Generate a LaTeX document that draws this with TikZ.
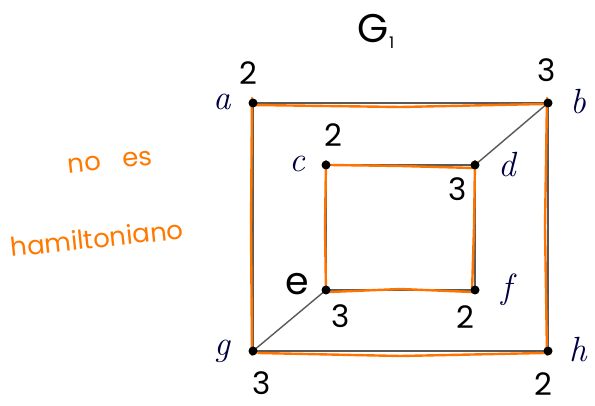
\documentclass[tikz,border=0pt]{standalone}
\usepackage{fontspec}
\usetikzlibrary{calc}
\newfontfamily\hand{Poppins}
\begin{document}
\begin{tikzpicture}[x=1pt,y=-1pt,
  vtx/.style={circle,fill=black,inner sep=0pt,minimum size=9pt},
  edge/.style={draw=black!65,line width=1.4pt},
  ham/.style={draw=orange!90!red,line width=2.4pt,line cap=round},
  lab/.style={font=\fontsize{35}{35}\selectfont\itshape,text=blue!25!black},
  deg/.style={font=\hand\fontsize{31}{31}\selectfont,text=black},
  note/.style={font=\hand\fontsize{26}{26}\selectfont,text=orange!95!red,rotate=6}]
\fill[white] (0,0) rectangle (595,406);
\useasboundingbox (0,0) rectangle (595,406);
\coordinate (a) at (253,103);
\coordinate (b) at (548,103);
\coordinate (c) at (326,165);
\coordinate (d) at (475,165);
\coordinate (e) at (326,290);
\coordinate (f) at (475,290);
\coordinate (g) at (253,351);
\coordinate (h) at (548,351);
% gray edges
\draw[edge] (a) -- (b) -- (h) -- (g) -- (a);
\draw[edge] (c) -- (d) -- (f) -- (e) -- (c);
\draw[edge] (b) -- (d);
\draw[edge] (e) -- (g);
% orange cycles
\draw[ham] ([yshift=-2pt]a) -- ([yshift=-4pt]$(a)!0.5!(b)$) -- ([yshift=-1pt,xshift=-4pt]b);
\draw[ham] ([xshift=-1pt,yshift=5pt]b) -- ([xshift=-3pt]$(b)!0.5!(h)$) -- ([xshift=-1pt,yshift=-4pt]h);
\draw[ham] ([yshift=-2pt,xshift=-4pt]h) -- ([yshift=-5pt]$(g)!0.5!(h)$) -- ([yshift=-2pt,xshift=5pt]g);
\draw[ham] ([xshift=-1pt,yshift=-4pt]g) -- ([xshift=-2pt]$(a)!0.5!(g)$) -- ([xshift=-1pt,yshift=5pt]a);
\draw[ham] ([xshift=4pt]c) -- ([yshift=-1pt]$(c)!0.5!(d)$) -- ([xshift=-2pt,yshift=-3pt]d) -- ([yshift=4pt]d);
\draw[ham] ([yshift=4pt]d) -- ([xshift=-1pt]$(d)!0.5!(f)$) -- ([xshift=-3pt,yshift=-2pt]f);
\draw[ham] ([xshift=-3pt,yshift=-2pt]f) -- ([yshift=1pt]$(e)!0.5!(f)$) -- ([xshift=4pt,yshift=-2pt]e);
\draw[ham] ([yshift=-3pt]e) -- ([xshift=-1pt]$(c)!0.5!(e)$) -- ([yshift=4pt]c);
% vertices
\foreach \v in {a,b,c,d,e,f,g,h} \node[vtx] (v\v) at (\v) {};
% labels
\node[lab] (la) at (222,102) {a};
\node[lab] (lb) at (578,102) {b};
\node[lab] (lc) at (297,164) {c};
\node[lab] (ld) at (507,165) {d};
\node[lab] (lf) at (507,290) {f};
\node[lab] (lg) at (222,351) {g};
\node[lab] (lh) at (578,350) {h};
\node[deg,font=\hand\fontsize{38}{38}\selectfont] (le) at (297,284) {e};
% degrees
\node[deg] (da) at (248,73) {2};
\node[deg] (db) at (547,70) {3};
\node[deg] (dc) at (333,135) {2};
\node[deg] (dd) at (458,189) {3};
\node[deg] (de) at (341,316) {3};
\node[deg] (df) at (465,317) {2};
\node[deg] (dg) at (262,383) {3};
\node[deg] (dh) at (543,384) {2};
% title
\node[font=\hand\fontsize{40}{40}\selectfont] (title) at (376,31) {G\raisebox{-6pt}{\fontsize{16}{16}\selectfont 1}};
% note
\node[note] (n1) at (110,162) {no\hspace{22pt}es};
\node[note] (n2) at (97,238) {hamiltoniano};
\end{tikzpicture}
\end{document}
